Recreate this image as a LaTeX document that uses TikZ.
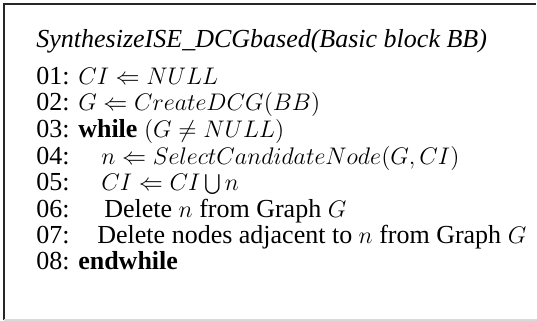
\documentclass[tikz,border=0pt]{standalone}
\usepackage{fontspec}
\setmainfont{Liberation Serif}
\tikzset{
  codeline/.style={anchor=base west, inner sep=0pt, font=\fontsize{13}{15.6}\selectfont},
  frameline/.style={line width=1pt, draw=black!85},
}
\begin{document}
\begin{tikzpicture}[x=0.5pt,y=-0.5pt]
\useasboundingbox (0,0) rectangle (537,321);
\fill[white] (0,0) rectangle (537,321);
\draw[frameline] (536,4) -- (4,4) -- (4,320);
\draw[line width=0.8pt, draw=black!15] (4,320) -- (537,320);
\node[codeline] (title) at (36,47) {\textit{SynthesizeISE\_DCGbased(Basic block BB)}};
\node[codeline] (n1) at (36,84.5) {01: $CI \Leftarrow NULL$};
\node[codeline] (n2) at (36,111) {02: $G \Leftarrow CreateDCG(BB)$};
\node[codeline] (n3) at (36,137.5) {03: \textbf{while} $(G \neq NULL)$};
\node[codeline] (n4) at (36,164) {04:};
\node[codeline] (b4) at (101,164) {$n \Leftarrow SelectCandidateNode(G, CI)$};
\node[codeline] (n5) at (36,190.5) {05:};
\node[codeline] (b5) at (101,190.5) {$CI \Leftarrow CI \bigcup n$};
\node[codeline] (n6) at (36,217) {06:};
\node[codeline] (b6) at (104,217) {Delete $n$ from Graph $G$};
\node[codeline] (n7) at (36,243.5) {07:};
\node[codeline] (b7) at (97,243.5) {Delete nodes adjacent to $n$ from Graph $G$};
\node[codeline] (n8) at (36,270) {08: \textbf{endwhile}};
\end{tikzpicture}
\end{document}
